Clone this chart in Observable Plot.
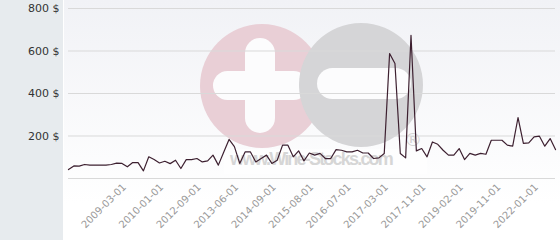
<!DOCTYPE html>
<html><head><meta charset="utf-8">
<script src="https://cdn.jsdelivr.net/npm/d3@7"></script>
<script src="https://cdn.jsdelivr.net/npm/@observablehq/plot@0.6"></script>
<style>
body{margin:0;background:#fff;}
#wrap{position:relative;width:560px;height:240px;overflow:hidden;font-family:"DejaVu Sans",sans-serif;}
#left{position:absolute;left:0;top:0;width:63px;height:240px;background:#e7ebee;}
#bg{position:absolute;left:64px;top:0;width:496px;height:240px;background:linear-gradient(#f1f2f6,#ffffff 85%);}
.wm{position:absolute;}
#chart{position:absolute;left:0;top:0;}
</style></head><body>
<div id="wrap">
 <div id="left"></div><div id="bg"></div>
 <div class="wm" style="left:200px;top:24px;width:124px;height:124px;border-radius:50%;background:#e9cfd6"></div>
 <div class="wm" style="left:245px;top:38px;width:30px;height:95px;border-radius:15px;background:#fcfcfd"></div>
 <div class="wm" style="left:213px;top:71px;width:95px;height:29px;border-radius:14.5px;background:#fcfcfd"></div>
 <div class="wm" style="left:299px;top:23px;width:124px;height:124px;border-radius:50%;background:#d5d5d7"></div>
 <div class="wm" style="left:317px;top:68px;width:94px;height:31px;border-radius:15.5px;background:#fcfcfd"></div>
 <div class="wm" style="left:224px;top:149px;width:203px;height:25px;background:rgba(255,255,255,0.55)"></div>
 <div class="wm" style="left:230px;top:149px;font:bold 18px 'Liberation Sans',sans-serif;letter-spacing:-1.8px;color:#d6d6d6;white-space:nowrap">www.Wine-Stocks.com</div>
 <div class="wm" style="left:404px;top:129px;font:18px 'DejaVu Sans',sans-serif;color:#d2d2d2">®</div>
 <div id="chart"></div>
</div>
<script>
const values = [42, 59, 58, 66, 63, 63, 63, 63, 66, 72, 71, 55, 75, 75, 36, 102, 89, 73, 81, 70,
  86, 47, 89, 89, 94, 78, 83, 110, 63, 124, 184, 150, 71, 125, 125, 78, 94, 110, 71, 86,
  157, 157, 102, 130, 83, 120, 110, 118, 94, 94, 136, 133, 125, 125, 133, 120, 120, 94, 97, 118,
  588, 541, 118, 97, 674, 130, 141, 102, 172, 161, 133, 110, 110, 141, 89, 118, 110, 118, 114, 180,
  180, 180, 157, 152, 287, 165, 168, 196, 199, 152, 188, 136];
const tickLabels = ["2009-03-01", "2010-01-01", "2012-09-01", "2013-06-01", "2014-09-01", "2015-08-01",
  "2016-07-01", "2017-03-01", "2017-11-01", "2019-02-01", "2019-11-01", "2022-01-01"];
const tickIdx = d3.range(11, values.length, 7).slice(0, tickLabels.length);
const yTicks = [200, 400, 600, 800];

const data = values.map((v, i) => ({i, v}));
const labelOf = new Map(tickIdx.map((t, k) => [t, tickLabels[k]]));

const plot = Plot.plot({
  width: 560, height: 240,
  marginLeft: 68, marginRight: 5, marginTop: 8, marginBottom: 62,
  style: {background: "transparent", fontFamily: "DejaVu Sans", overflow: "visible"},
  x: {domain: [0, values.length - 1], axis: null},
  y: {domain: [0, 800], axis: null},
  marks: [
    Plot.gridY(yTicks, {stroke: "#d9d9d9", strokeOpacity: 1}),
    Plot.ruleY([0], {stroke: "#d9d9d9"}),
    Plot.axisY(yTicks, {tickSize: 0, tickPadding: 9, fontSize: 11, fill: "#333", tickFormat: d => d + " $", label: null}),
    Plot.axisX(tickIdx, {tickSize: 0, tickRotate: -45, tickPadding: 7, dx: -3, fontSize: 10, fill: "#999", tickFormat: i => labelOf.get(i), label: null}),
    Plot.line(data, {x: "i", y: "v", stroke: "#3d2030", strokeWidth: 1.2})
  ]
});
document.getElementById("chart").appendChild(plot);
</script>
</body></html>
